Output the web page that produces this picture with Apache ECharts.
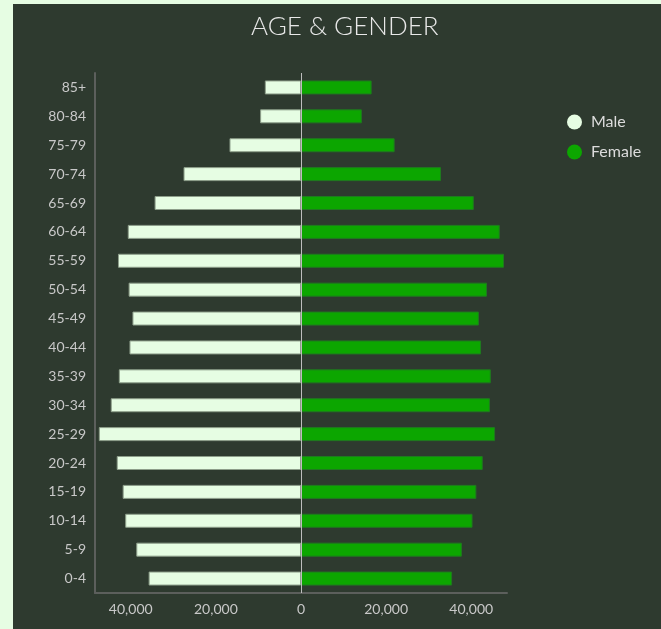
<!DOCTYPE html>
<html>
<head>
<meta charset="utf-8">
<script src="https://cdn.jsdelivr.net/npm/echarts@6/dist/echarts.min.js"></script>
<style>
  html, body { margin: 0; padding: 0; width: 661px; height: 629px; background: #e6fde3; overflow: hidden; }
  #chart { position: absolute; left: 13px; top: 4px; width: 648px; height: 625px; }
</style>
</head>
<body>
<div id="chart"></div>
<script>
const ageGroups = ['0-4','5-9','10-14','15-19','20-24','25-29','30-34','35-39','40-44','45-49','50-54','55-59','60-64','65-69','70-74','75-79','80-84','85+'];
const maleValues = [35800, 38700, 41300, 41900, 43300, 47500, 44700, 42800, 40300, 39600, 40500, 43000, 40700, 34400, 27600, 16800, 9600, 8500];
const femaleValues = [35500, 37800, 40300, 41200, 42700, 45600, 44400, 44600, 42300, 41800, 43700, 47700, 46700, 40600, 32900, 22000, 14300, 16600];
const tickValues = [-40000, -20000, 0, 20000, 40000];

const fmt = v => Math.abs(v).toLocaleString('en-US');
const font = 'Lato, "Noto Sans", sans-serif';

const chart = echarts.init(document.getElementById('chart'));
chart.setOption({
  backgroundColor: '#2e3a2f',
  animation: false,
  title: {
    text: 'AGE & GENDER',
    left: 233,
    top: 5,
    textStyle: { color: '#e8e8e8', fontFamily: font, fontWeight: 300, fontSize: 26 }
  },
  legend: {
    orient: 'vertical',
    left: 549,
    top: 105,
    icon: 'circle',
    itemWidth: 15,
    itemHeight: 15,
    itemGap: 14,
    itemStyle: { borderWidth: 0 },
    textStyle: { color: '#dcdcdc', fontFamily: font, fontSize: 16, padding: [0, 0, 0, 4] },
    data: ['Male', 'Female']
  },
  grid: { left: 82, top: 69, width: 412, height: 520, containLabel: false },
  xAxis: {
    type: 'value',
    min: -48400,
    max: 48400,
    axisLine: { show: true, lineStyle: { color: '#5c5f5c', width: 2 } },
    axisTick: { show: false },
    splitLine: { show: false },
    axisLabel: {
      customValues: tickValues,
      formatter: fmt,
      color: '#c8c8c8',
      fontFamily: font,
      fontSize: 14,
      margin: 9
    }
  },
  yAxis: {
    type: 'category',
    data: ageGroups,
    axisLine: { show: true, onZero: false, lineStyle: { color: '#5c5f5c', width: 2 } },
    axisTick: { show: false },
    axisLabel: { color: '#c8c8c8', fontFamily: font, fontSize: 14, margin: 9 }
  },
  series: [
    {
      name: 'Male',
      type: 'bar',
      stack: 'pop',
      barWidth: 14,
      data: maleValues.map(v => -v),
      itemStyle: { color: '#e6fde3', borderColor: '#8d9e8a', borderWidth: 1 }
    },
    {
      name: 'Female',
      type: 'bar',
      stack: 'pop',
      barWidth: 14,
      data: femaleValues,
      itemStyle: { color: '#0ca600', borderColor: '#1f7a1f', borderWidth: 1 },
      markLine: {
        silent: true,
        symbol: 'none',
        label: { show: false },
        lineStyle: { color: '#bdbdbd', width: 1, type: 'solid' },
        data: [{ xAxis: 0 }]
      }
    }
  ]
});
</script>
</body>
</html>
